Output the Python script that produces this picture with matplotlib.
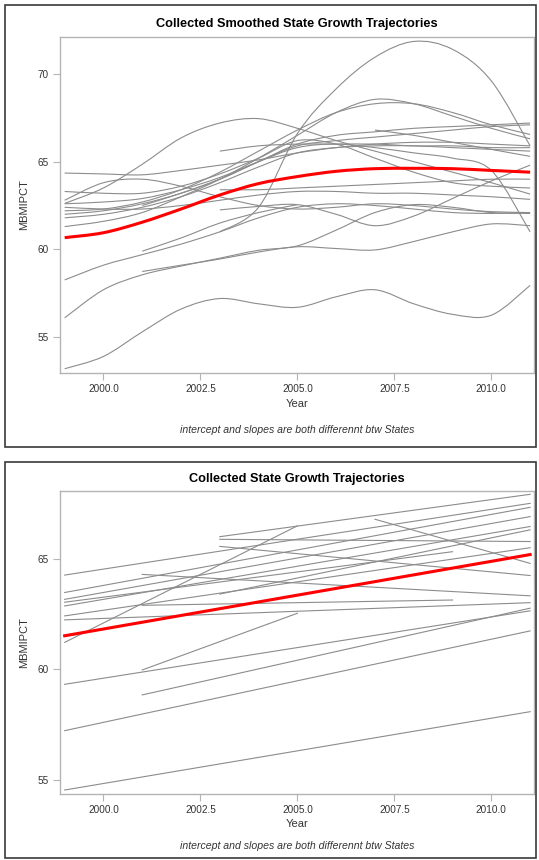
import numpy as np
import matplotlib
matplotlib.use("Agg")
import matplotlib.pyplot as plt
from matplotlib.patches import Rectangle, PathPatch
from matplotlib.path import Path

plt.rcParams["font.family"] = ["Liberation Sans", "DejaVu Sans"]

YEARS = list(range(1999, 2012))
N = np.nan

# smoothed state trajectories, one value per year (nan = no data)
SMOOTH_STATES = [
    [53.2, 53.9, 55.3, 56.6, 57.2, 56.9, 56.7, 57.3, 57.7, 56.9, 56.3, 56.25, 57.95],
    [56.1, 57.7, 58.55, 59.05, 59.5, 59.95, 60.2, 61.1, 62.1, 62.55, 62.4, 62.1, 62.05],
    [N, N, 58.74, 59.1, 59.45, 59.85, 60.15, 60.05, 59.97, 60.45, 61.0, 61.45, 61.35],
    [58.26, 59.1, 59.7, 60.3, 61.0, 61.8, 62.4, 62.6, 62.5, 62.3, 62.1, 62.05, 62.1],
    [N, N, 59.9, 60.65, 61.5, 62.1, 62.55, N, N, N, N, N, N],
    [N, N, N, N, 62.25, 62.45, 62.55, 62.0, 61.35, 61.9, 62.9, 63.9, 64.8],
    [62.62, 63.5, 64.85, 66.35, 67.2, 67.45, 66.9, 66.2, 65.6, 65.0, 64.4, 63.8, 63.15],
    [64.35, 64.3, 64.25, 64.5, 64.8, 65.1, 65.5, 65.8, 66.0, 66.1, 66.1, 66.0, 65.9],
    [N, N, N, N, 61.0, 62.4, 66.6, 69.15, 70.95, 71.85, 71.4, 69.6, 65.9],
    [61.3, 61.6, 62.1, 63.0, 64.0, 65.2, 66.5, 67.8, 68.55, 68.3, 67.6, 66.9, 66.3],
    [62.2, 62.3, 62.7, 63.4, 64.4, 65.6, 66.8, 67.8, 68.3, 68.3, 67.8, 67.1, 66.55],
    [62.8, 63.8, 64.0, 63.6, 63.0, 62.5, 62.3, 62.4, 62.6, 62.5, 62.3, 62.15, 62.1],
    [62.0, 62.2, 62.6, 63.2, 64.0, 65.0, 66.0, 66.5, 66.7, 66.9, 67.0, 67.1, 67.2],
    [61.8, 62.0, 62.4, 63.0, 63.8, 64.7, 65.5, 65.8, 65.9, 65.9, 65.8, 65.7, 65.6],
    [N, N, 62.5, 63.2, 64.0, 65.0, 65.9, 66.2, 66.4, 66.6, 66.8, 67.0, 67.1],
    [N, N, N, N, 65.6, 65.9, 66.0, 66.0, 66.0, 65.9, 65.9, 65.8, 65.8],
    [N, N, N, N, 63.4, 63.4, 63.5, 63.6, 63.7, 63.8, 63.9, 64.0, 64.0],
    [62.4, 62.3, 62.3, 62.5, 62.8, 63.1, 63.3, 63.3, 63.2, 63.2, 63.1, 63.0, 62.85],
    [N, N, N, N, N, N, N, N, 66.8, 66.5, 66.1, 65.7, 65.3],
    [63.3, 63.2, 63.2, 63.6, 64.3, 65.2, 66.2, 66.0, 65.2, 64.4, 63.8, 63.6, 63.5],
    [62.6, 62.7, 62.9, 63.4, 64.1, 65.0, 65.8, 66.0, 65.8, 65.5, 65.2, 64.5, 61.0],
]
SMOOTH_AVG = [60.67, 60.95, 61.55, 62.3, 63.1, 63.75, 64.15, 64.45, 64.6, 64.62, 64.6, 64.5, 64.4]

# linear fits per state: start year, start value, end year, end value
LIN_START_YEAR = [1999, 1999, 1999, 2001, 2001, 1999, 2003, 1999, 1999, 1999, 1999, 1999,
                  1999, 1999, 2003, 2003, 2003, 2007, 2001, 2001]
LIN_START = [54.53, 57.22, 59.32, 58.84, 59.97, 61.22, 66.01, 64.27, 63.48, 63.17, 63.04, 62.87,
             62.42, 62.24, 65.89, 65.57, 63.41, 66.8, 62.9, 64.3]
LIN_END_YEAR = [2011, 2011, 2011, 2011, 2005, 2005, 2011, 2011, 2011, 2011, 2009, 2011,
                2011, 2011, 2011, 2011, 2011, 2011, 2009, 2011]
LIN_END = [58.08, 61.74, 62.65, 62.77, 62.54, 66.5, 67.93, 67.52, 67.34, 66.92, 65.33, 66.47,
           65.51, 63.02, 65.79, 64.25, 66.32, 64.8, 63.14, 63.33]
LIN_AVG_YEARS = [1999, 2011]
LIN_AVG = [61.52, 65.2]

XTICKS = [2000.0, 2002.5, 2005.0, 2007.5, 2010.0]
GRAY = "#8c8c8c"
RED = "#ff0000"
SPINE = "#b4b4b4"
TXT = "#333333"
FOOT = "intercept and slopes are both differennt btw States"


def smooth_path(xs, ys):
    # cubic bezier through the yearly values (the chart draws spline fits)
    xs = np.asarray(xs, float)
    ys = np.asarray(ys, float)
    ok = ~np.isnan(ys)
    pts = np.column_stack([xs[ok], ys[ok]])
    verts = [pts[0]]
    codes = [Path.MOVETO]
    for i in range(len(pts) - 1):
        p0 = pts[i - 1] if i > 0 else pts[i]
        p3 = pts[i + 2] if i + 2 < len(pts) else pts[i + 1]
        verts += [pts[i] + (pts[i + 1] - p0) / 6, pts[i + 1] - (p3 - pts[i]) / 6, pts[i + 1]]
        codes += [Path.CURVE4] * 3
    return Path(verts, codes)


def style_axes(ax, ylim, yticks):
    ax.set_xlim(1998.88, 2011.1)
    ax.set_ylim(*ylim)
    ax.set_xticks(XTICKS)
    ax.set_xticklabels([f"{t:.1f}" for t in XTICKS])
    ax.set_yticks(yticks)
    ax.set_yticklabels([str(t) for t in yticks])
    for s in ax.spines.values():
        s.set_color(SPINE)
        s.set_linewidth(1.0)
    ax.tick_params(colors=SPINE, labelcolor=TXT, labelsize=7.2, length=5, width=0.8, pad=3)
    ax.set_xlabel("Year", fontsize=8, color=TXT, labelpad=3)
    ax.set_ylabel("MBMIPCT", fontsize=8, color=TXT, labelpad=6)


fig = plt.figure(figsize=(5.39, 8.6), dpi=100)

# top panel: smoothed
ax1 = fig.add_axes([60 / 539, 1 - 373.3 / 860, 474 / 539, 336.6 / 860])
for vals in SMOOTH_STATES:
    ax1.add_patch(PathPatch(smooth_path(YEARS, vals), fill=False, edgecolor=GRAY, lw=0.8))
ax1.add_patch(PathPatch(smooth_path(YEARS, SMOOTH_AVG), fill=False, edgecolor=RED, lw=2.2,
                        capstyle="butt"))
style_axes(ax1, (52.94, 72.12), [55, 60, 65, 70])
fig.text(297 / 539, 1 - 24.3 / 860, "Collected Smoothed State Growth Trajectories",
         ha="center", va="center", fontsize=9.2, fontweight="bold")
fig.text(297 / 539, 1 - 430 / 860, FOOT, ha="center", va="center", fontsize=7.6,
         style="italic", color=TXT)

# bottom panel: linear
ax2 = fig.add_axes([60 / 539, 1 - 794 / 860, 474 / 539, 303 / 860])
for x0, y0, x1, y1 in zip(LIN_START_YEAR, LIN_START, LIN_END_YEAR, LIN_END):
    ax2.plot([x0, x1], [y0, y1], color=GRAY, lw=0.8)
ax2.plot(LIN_AVG_YEARS, LIN_AVG, color=RED, lw=2.2)
style_axes(ax2, (54.35, 68.08), [55, 60, 65])
fig.text(297 / 539, 1 - 479 / 860, "Collected State Growth Trajectories",
         ha="center", va="center", fontsize=9.2, fontweight="bold")
fig.text(297 / 539, 1 - 845.7 / 860, FOOT, ha="center", va="center", fontsize=7.6,
         style="italic", color=TXT)

# panel frames
for top, bottom in [(5, 447), (462, 858)]:
    fig.add_artist(Rectangle((5 / 539, 1 - bottom / 860), 531 / 539, (bottom - top) / 860,
                             transform=fig.transFigure, fill=False, edgecolor="#3a3a3a", lw=1.2))

fig.savefig("out.png", dpi=100)
